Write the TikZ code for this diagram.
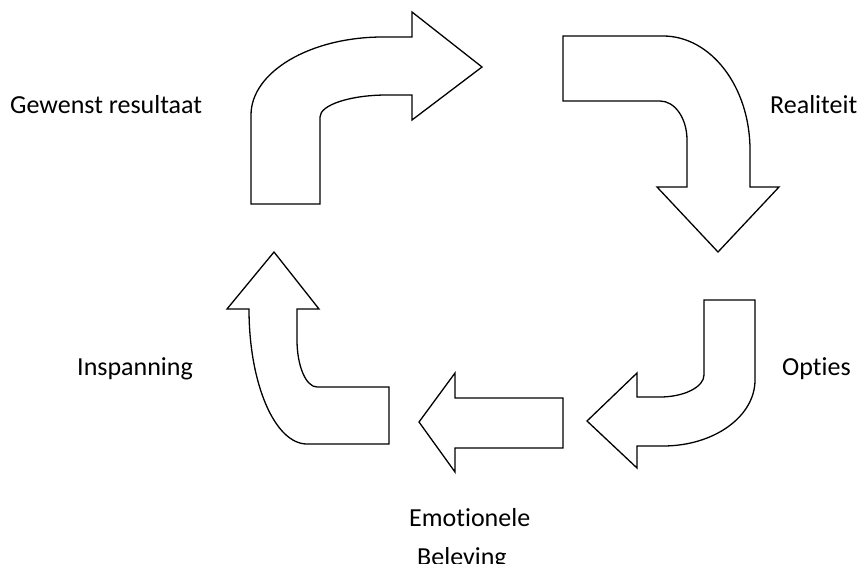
\documentclass[tikz,border=0pt]{standalone}
\usepackage{fontspec}
\setmainfont{Carlito}[Ligatures={NoCommon}]
\begin{document}
\begin{tikzpicture}[x=1pt,y=-1pt,
  shapearrow/.style={draw=black,line width=1.3pt,fill=white,line join=miter},
  lbl/.style={inner sep=0pt,font=\fontsize{26}{39}\selectfont,anchor=base west}]
\useasboundingbox (0,0) rectangle (861,564);
% arrow 1: top, up then right
\draw[shapearrow] (251,204) -- (251,115) .. controls (251,72) and (310,37) .. (383,37)
  -- (412,37) -- (412,12) -- (482,67) -- (412,120) -- (412,95) -- (387,95)
  .. controls (350,95) and (320,105) .. (320,117) -- (320,204) -- cycle;
% arrow 2: right then down
\draw[shapearrow] (563,36) -- (663,36) .. controls (711,36) and (750,87) .. (750,150)
  -- (750,187) -- (779,187) -- (718,252) -- (657,187) -- (687,187) -- (687,140)
  .. controls (687,118.5) and (675,101) .. (660,101) -- (563,101) -- cycle;
% arrow 3: down then left
\draw[shapearrow] (704,300) -- (755,300) -- (755,380) .. controls (755,416.5) and (714,446) .. (663,446)
  -- (637,446) -- (637,468) -- (587,421) -- (637,373) -- (637,397) -- (660,397)
  .. controls (684,397) and (704,387) .. (704,375) -- cycle;
% arrow 4: straight left
\draw[shapearrow] (563,398) -- (455,398) -- (455,373) -- (419,422) -- (455,472) -- (455,448) -- (563,448) -- cycle;
% arrow 5: left then up
\draw[shapearrow] (389,444) -- (307,444) .. controls (275,444) and (249,384) .. (249,309)
  -- (227,309) -- (274,252) -- (319,309) -- (297,309) -- (297,340)
  .. controls (297,366) and (306,387) .. (317,387) -- (389,387) -- cycle;
% labels
\node[lbl] (gewenst) at (10,114) {Gewenst resultaat};
\node[lbl] (realiteit) at (770,114) {Realiteit};
\node[lbl] (opties) at (782,375) {Opties};
\node[lbl] (inspanning) at (77,375) {Inspanning};
\node[lbl,align=left] (emotie) at (409,565) {Emotionele\\\hspace*{8pt}Beleving};
\end{tikzpicture}
\end{document}
